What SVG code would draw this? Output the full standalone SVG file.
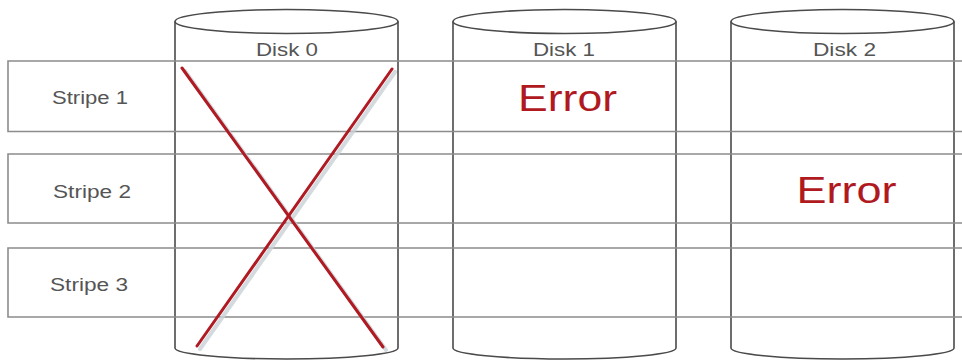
<svg xmlns="http://www.w3.org/2000/svg" width="962" height="361" viewBox="0 0 962 361">
  <defs>
    <style>
      .cyl { fill: none; stroke: #4a4a4a; stroke-width: 1.6; }
      .cylfill { fill: #ffffff; stroke: none; }
      .stripe { fill: none; stroke: #8c8c8c; stroke-width: 1.6; }
      .lbl { font-family: "Liberation Sans", Arial, sans-serif; font-size: 18px; fill: #555555; text-anchor: middle; }
      .err { font-family: "Liberation Sans", Arial, sans-serif; font-size: 37px; fill: #b01a1f; text-anchor: middle; }
      .xline { stroke: #b01a22; stroke-width: 3; stroke-linecap: round; }
      .xshadow { stroke: #c9d3d8; stroke-width: 4; stroke-linecap: round; opacity: 0.8; }
    </style>
  </defs>
  <rect x="0" y="0" width="962" height="361" fill="#ffffff"/>

  <g id="disk-0">
    <path class="cylfill" d="M175,21.5 A111.5,12 0 0 1 398,21.5 L398,348 A111.5,11 0 0 1 175,348 Z"/>
    <ellipse class="cyl" cx="286.5" cy="21.5" rx="111.5" ry="12"/>
    <path class="cyl" d="M175,21.5 L175,348 A111.5,11 0 0 0 398,348 L398,21.5"/>
    <text class="lbl" x="287" y="55.5" textLength="62" lengthAdjust="spacingAndGlyphs">Disk 0</text>
  </g>

  <g id="disk-1">
    <path class="cylfill" d="M453,21.5 A111.5,12 0 0 1 676,21.5 L676,348 A111.5,11 0 0 1 453,348 Z"/>
    <ellipse class="cyl" cx="564.5" cy="21.5" rx="111.5" ry="12"/>
    <path class="cyl" d="M453,21.5 L453,348 A111.5,11 0 0 0 676,348 L676,21.5"/>
    <text class="lbl" x="564" y="55.5" textLength="62" lengthAdjust="spacingAndGlyphs">Disk 1</text>
  </g>

  <g id="disk-2">
    <path class="cylfill" d="M731,21.5 A111.5,12 0 0 1 954,21.5 L954,348 A111.5,11 0 0 1 731,348 Z"/>
    <ellipse class="cyl" cx="842.5" cy="21.5" rx="111.5" ry="12"/>
    <path class="cyl" d="M731,21.5 L731,348 A111.5,11 0 0 0 954,348 L954,21.5"/>
    <text class="lbl" x="844.5" y="55.5" textLength="63" lengthAdjust="spacingAndGlyphs">Disk 2</text>
  </g>

  <g id="stripe-1">
    <path class="stripe" d="M970,61 L8,61 L8,131.5 L970,131.5"/>
    <text class="lbl" x="90" y="104" textLength="76" lengthAdjust="spacingAndGlyphs">Stripe 1</text>
  </g>

  <g id="stripe-2">
    <path class="stripe" d="M970,154 L8,154 L8,223 L970,223"/>
    <text class="lbl" x="92" y="198" textLength="78" lengthAdjust="spacingAndGlyphs">Stripe 2</text>
  </g>

  <g id="stripe-3">
    <path class="stripe" d="M970,248 L8,248 L8,317 L970,317"/>
    <text class="lbl" x="89" y="291" textLength="78" lengthAdjust="spacingAndGlyphs">Stripe 3</text>
  </g>

  <g id="errors">
    <text class="err" x="567.5" y="110.5" textLength="99" lengthAdjust="spacingAndGlyphs">Error</text>
    <text class="err" x="846.5" y="202.5" textLength="100" lengthAdjust="spacingAndGlyphs">Error</text>
  </g>

  <g id="connectors">
    <line class="xshadow" x1="185" y1="71" x2="386" y2="350"/>
    <line class="xshadow" x1="395" y1="72" x2="200" y2="349"/>
    <line class="xline" x1="182" y1="68" x2="383" y2="347"/>
    <line class="xline" x1="392" y1="69" x2="197" y2="346"/>
  </g>
</svg>
